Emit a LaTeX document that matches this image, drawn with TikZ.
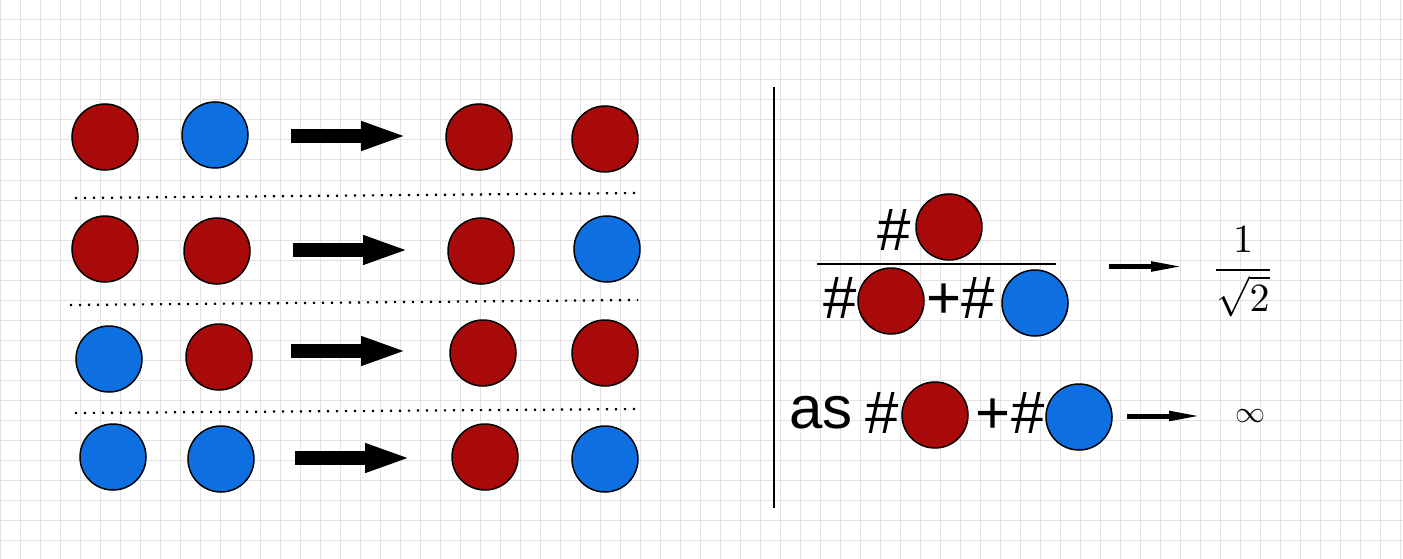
\documentclass[tikz,border=0pt]{standalone}
\usepackage{fontspec}
\newfontfamily\sansf{Liberation Sans}
\usetikzlibrary{arrows.meta}
\definecolor{ballred}{RGB}{168,10,10}
\definecolor{ballblue}{RGB}{14,112,224}
\definecolor{gridc}{RGB}{226,226,226}
\tikzset{
  ball/.style={circle, draw=black, line width=1.5pt, minimum size=66pt, inner sep=0pt},
  rb/.style={ball, fill=ballred},
  bb/.style={ball, fill=ballblue},
  bigarrow/.style={line width=14pt, -{Triangle[length=47pt,width=26pt]}},
  thinarrow/.style={line width=5pt, -{Triangle[length=34pt,width=9pt]}},
  sep/.style={line width=2.2pt, dash pattern=on 2.2pt off 6.8pt},
  sym/.style={inner sep=0pt, anchor=base west, font=\sansf\fontsize{60}{64}\selectfont},
}
\begin{document}
\begin{tikzpicture}[x=1pt,y=-1pt]
\useasboundingbox (0,0) rectangle (1403,559);
\fill[white] (0,0) rectangle (1403,559);
\foreach \i in {0,20,...,1400} \draw[gridc, line width=1pt] (\i,0) -- (\i,559);
\foreach \j in {0,20,...,540} \draw[gridc, line width=1pt] (0,\j) -- (1403,\j);
% row 1
\node[rb] (a1) at (105,137) {};
\node[bb] (b1) at (215,135) {};
\node[rb] (c1) at (479,137) {};
\node[rb] (d1) at (605,139) {};
% row 2
\node[rb] (a2) at (105,249) {};
\node[rb] (b2) at (217,251) {};
\node[rb] (c2) at (481,251) {};
\node[bb] (d2) at (607,249) {};
% row 3
\node[bb] (a3) at (109,359) {};
\node[rb] (b3) at (219,357) {};
\node[rb] (c3) at (483,353) {};
\node[rb] (d3) at (605,353) {};
% row 4
\node[bb] (a4) at (113,457) {};
\node[bb] (b4) at (221,459) {};
\node[rb] (c4) at (485,457) {};
\node[bb] (d4) at (605,459) {};
% block arrows
\coordinate (s1) at (291,136); \coordinate (e1) at (408,136);
\coordinate (s2) at (293,250); \coordinate (e2) at (410,250);
\coordinate (s3) at (291,351); \coordinate (e3) at (408,351);
\coordinate (s4) at (295,458); \coordinate (e4) at (412,458);
\draw[bigarrow] (s1) -- (e1);
\draw[bigarrow] (s2) -- (e2);
\draw[bigarrow] (s3) -- (e3);
\draw[bigarrow] (s4) -- (e4);
% dotted separators
\coordinate (l1) at (75,198); \coordinate (r1) at (641,193);
\coordinate (l2) at (70,305); \coordinate (r2) at (638,300);
\coordinate (l3) at (75,413); \coordinate (r3) at (641,409);
\draw[sep] (l1) -- (r1);
\draw[sep] (l2) -- (r2);
\draw[sep] (l3) -- (r3);
% vertical divider
\coordinate (vt) at (774,87); \coordinate (vb) at (774,508);
\draw[line width=2pt] (vt) -- (vb);
% fraction
\node[sym] (nh) at (877,250) {\#};
\node[rb] (nr) at (949,227) {};
\coordinate (fl) at (817,264); \coordinate (fr) at (1056,264);
\draw[line width=2pt] (fl) -- (fr);
\node[sym] (dh1) at (823,318) {\#};
\node[rb] (dr) at (891,301) {};
\node[sym] (dp) at (926,318) {+};
\node[sym] (dh2) at (961,318) {\#};
\node[bb] (db) at (1035,303) {};
\coordinate (ta) at (1109,266.5); \coordinate (tb) at (1185,266.5);
\draw[thinarrow] (ta) -- (tb);
\node[inner sep=0pt, scale=4.0] (res1) at (1243,272) {$\displaystyle\frac{1}{\sqrt{2}}$};
% bottom line
\node[sym] (as) at (789,428) {as};
\node[sym] (bh1) at (865,433) {\#};
\node[rb] (br) at (935,415) {};
\node[sym] (bp) at (975,433) {+};
\node[sym] (bh2) at (1011,433) {\#};
\node[bb] (bbl) at (1079,417) {};
\coordinate (ua) at (1127,416); \coordinate (ub) at (1203,416);
\draw[thinarrow] (ua) -- (ub);
\node[inner sep=0pt, scale=3.0] (inf) at (1250,416) {$\infty$};
\end{tikzpicture}
\end{document}
